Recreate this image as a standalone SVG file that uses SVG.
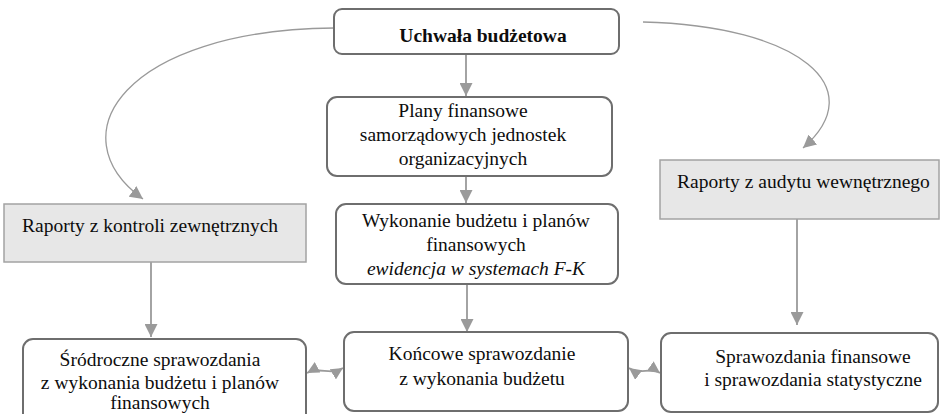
<svg xmlns="http://www.w3.org/2000/svg" width="940" height="414" viewBox="0 0 940 414">
<style>
.box{fill:#fff;stroke:#6e6e6e;stroke-width:2}
.gbox{fill:#e7e7e7;stroke:#a3a3a3;stroke-width:1.5}
text{font-family:'Liberation Serif','Times New Roman','DejaVu Serif',serif;font-size:19.5px;fill:#0d0d0d}
.c{text-anchor:middle}
.b{font-weight:bold}
.i{font-style:italic}
.ln{fill:none;stroke:#9a9a9a;stroke-width:1.8}
.cv{fill:none;stroke:#9a9a9a;stroke-width:1.3}
</style>
<defs>
<marker id="ah" viewBox="0 0 12 12" refX="12" refY="6" markerWidth="13" markerHeight="13" markerUnits="userSpaceOnUse" orient="auto">
<path d="M0,0 L12,6 L0,12 Z" fill="#9a9a9a"/>
</marker>
<marker id="ah2" viewBox="0 0 12 12" refX="12" refY="6" markerWidth="12" markerHeight="12" markerUnits="userSpaceOnUse" orient="auto-start-reverse">
<path d="M0,0 L12,6 L0,12 Z" fill="#9a9a9a"/>
</marker>
</defs>

<g id="connectors">
<path class="ln" d="M466,54 V96" marker-end="url(#ah)"/>
<path class="ln" d="M466,176 V203" marker-end="url(#ah)"/>
<path class="ln" d="M467,284 V332" marker-end="url(#ah)"/>
<path class="ln" d="M151,262 V337" marker-end="url(#ah)"/>
<path class="ln" d="M797,219 V325" marker-end="url(#ah)"/>
<path class="cv" d="M334,28 C125,30 55,135 143,199" marker-end="url(#ah)"/>
<path class="cv" d="M643,22 C800,26 872,88 803,148" marker-end="url(#ah)"/>
<path class="ln" d="M307,373 C320,366 330,376 343,368" marker-start="url(#ah2)" marker-end="url(#ah2)"/>
<path class="ln" d="M629,368 C640,376 650,366 660,373" marker-start="url(#ah2)" marker-end="url(#ah2)"/>
</g>

<g id="uchwala">
<rect class="box" x="334" y="9" width="285" height="45" rx="8"/>
<text class="c b" x="483" y="41.5">Uchwała budżetowa</text>
</g>

<g id="plany">
<rect class="box" x="327" y="97" width="285" height="79" rx="10"/>
<text class="c" x="463" y="117">Plany finansowe</text>
<text class="c" x="463" y="141">samorządowych jednostek</text>
<text class="c" x="463" y="165">organizacyjnych</text>
</g>

<g id="wykonanie">
<rect class="box" x="336" y="204" width="282" height="80" rx="10"/>
<text class="c" x="476" y="227">Wykonanie budżetu i planów</text>
<text class="c" x="476" y="251">finansowych</text>
<text class="c i" x="476" y="275">ewidencja w systemach F-K</text>
</g>

<g id="kontrole">
<rect class="gbox" x="4" y="204" width="302" height="58"/>
<text x="22" y="232">Raporty z kontroli zewnętrznych</text>
</g>

<g id="audyt">
<rect class="gbox" x="660" y="160" width="279" height="59"/>
<text x="677" y="188">Raporty z audytu wewnętrznego</text>
</g>

<g id="srodroczne">
<rect class="box" x="23" y="339" width="283" height="90" rx="10"/>
<text class="c" x="160" y="366">Śródroczne sprawozdania</text>
<text class="c" x="160" y="388.5">z wykonania budżetu i planów</text>
<text class="c" x="160" y="409">finansowych</text>
</g>

<g id="koncowe">
<rect class="box" x="344" y="332" width="284" height="79" rx="10"/>
<text class="c" x="482" y="360">Końcowe sprawozdanie</text>
<text class="c" x="482" y="385">z wykonania budżetu</text>
</g>

<g id="sprawozdania">
<rect class="box" x="661" y="333" width="277" height="79" rx="10"/>
<text class="c" x="813" y="363">Sprawozdania finansowe</text>
<text class="c" x="813" y="386">i sprawozdania statystyczne</text>
</g>
</svg>
